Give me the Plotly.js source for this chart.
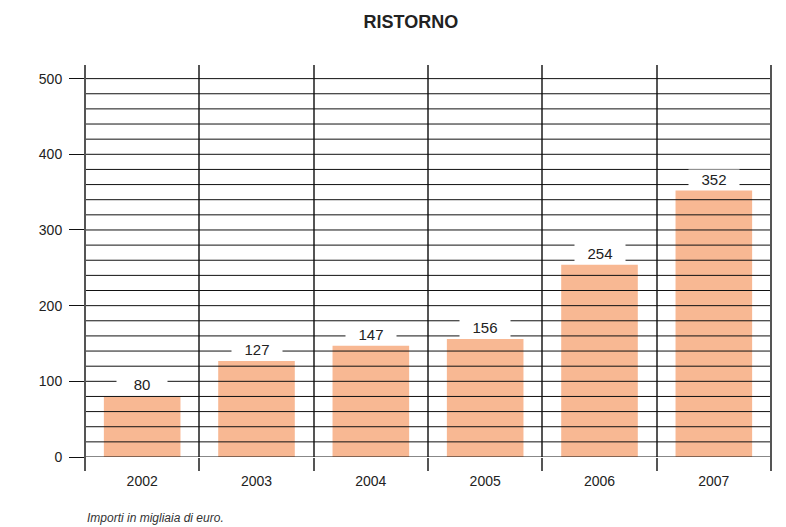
<!DOCTYPE html>
<html>
<head>
<meta charset="utf-8">
<script src="https://cdn.plot.ly/plotly-3.0.1.min.js"></script>
<style>body{margin:0;padding:0;background:#fff;}#chart{width:786px;height:527px;}</style>
</head>
<body>
<div id="chart"></div>
<script>
const years = ['2002', '2003', '2004', '2005', '2006', '2007'];
const values = [80, 127, 147, 156, 254, 352];
const yTicks = [0, 100, 200, 300, 400, 500];
const chartTitle = 'RISTORNO';
const footnote = 'Importi in migliaia di euro.';

const shapes = [];
for (let v = 0; v <= 500; v += 20) {
  shapes.push({type: 'line', xref: 'paper', yref: 'y', x0: 0, x1: 1, y0: v, y1: v,
    line: {color: '#111', width: 1}, layer: 'above'});
}
// outer frame verticals (axis edges), extending down like the boundary ticks
[0, 1].forEach(px => shapes.push({type: 'line', xref: 'paper', yref: 'paper',
  x0: px, x1: px, y0: -0.033, y1: 1, line: {color: '#555', width: 2}, layer: 'above'}));

const annotations = values.map((v, i) => ({
  x: i, y: v, xref: 'x', yref: 'y', text: String(v), showarrow: false,
  yanchor: 'bottom', yshift: 1, bgcolor: '#fff', width: 48, height: 17, borderpad: 1,
  font: {family: 'Liberation Sans, Arial, sans-serif', size: 15, color: '#222'}
}));
annotations.push({
  xref: 'paper', yref: 'paper', x: 0.0, y: -0.155, xanchor: 'left', yanchor: 'middle',
  text: '<i>' + footnote + '</i>', showarrow: false,
  font: {family: 'Liberation Sans, Arial, sans-serif', size: 12, color: '#333'}
});

const data = [{
  type: 'bar', x: years, y: values, width: 0.67,
  marker: {color: '#F8B893', line: {width: 0}},
  hoverinfo: 'skip'
}];

const layout = {
  width: 786, height: 527,
  margin: {l: 85, r: 15, t: 65, b: 70},
  paper_bgcolor: '#fff', plot_bgcolor: '#fff',
  showlegend: false,
  title: {text: '<b>' + chartTitle + '</b>', x: 0.475, xref: 'paper', y: 0.958, yanchor: 'middle',
    font: {family: 'Liberation Sans, Arial, sans-serif', size: 18, color: '#222'}},
  xaxis: {
    type: 'category', range: [-0.5, 5.5], tickson: 'boundaries',
    ticks: 'outside', ticklen: 13, tickwidth: 2, tickcolor: '#555',
    showgrid: true, gridcolor: '#555', gridwidth: 2,
    showline: false, zeroline: false, ticklabelstandoff: 14,
    tickfont: {family: 'Liberation Sans, Arial, sans-serif', size: 14, color: '#222'}
  },
  yaxis: {
    range: [0, 518], tickvals: yTicks, ticktext: yTicks.map(String),
    ticks: 'outside', ticklen: 15, tickwidth: 1, tickcolor: '#111',
    showgrid: false, zeroline: false, showline: false, ticklabelstandoff: 4,
    tickfont: {family: 'Liberation Sans, Arial, sans-serif', size: 14, color: '#222'}
  },
  shapes: shapes,
  annotations: annotations
};

Plotly.newPlot('chart', data, layout, {displayModeBar: false, staticPlot: true});
</script>
</body>
</html>
